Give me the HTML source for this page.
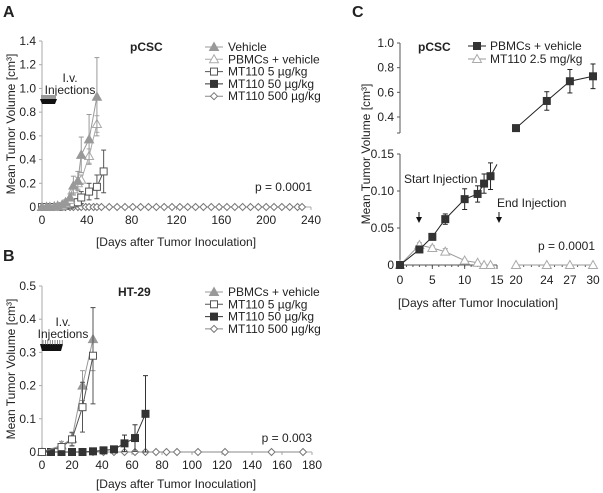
<!DOCTYPE html>
<html><head><meta charset="utf-8"><style>
body{margin:0;background:#fff;}
svg{display:block;font-family:"Liberation Sans",sans-serif;}
text{fill:#222;}
</style></head><body>
<svg id="fig" width="603" height="493" viewBox="0 0 603 493" xmlns="http://www.w3.org/2000/svg">
<g id="g"></g>
</svg>
<script>
// ---------- Panel A data ----------
const aXTicks=[0,40,80,120,160,200,240];
const aYTicks=[0,0.2,0.4,0.6,0.8,1.0,1.2,1.4];
const aYLabels=["0","0.2","0.4","0.6","0.8","1.0","1.2","1.4"];
const aVehDays=[0,4,7,11,14,18,21,25,28,32,35,42,49];
const aVehVals=[0,0,0,0.005,0.01,0.02,0.04,0.08,0.18,0.22,0.44,0.57,0.93];
const aVehErr=[0,0,0,0,0,0.01,0.02,0.03,0.08,0.08,0.15,0.21,0.33];
const aPbmDays=[0,4,7,11,14,18,21,25,28,32,35,42,49];
const aPbmVals=[0,0,0,0,0.005,0.01,0.03,0.06,0.15,0.2,0.23,0.43,0.70];
const aPbmErr=[0,0,0,0,0,0.01,0.01,0.02,0.04,0.05,0.04,0.06,0.07];
const aM5Days=[0,4,7,11,14,18,21,25,28,32,35,42,49,55];
const aM5Vals=[0,0,0,0,0,0.005,0.01,0.02,0.03,0.04,0.08,0.13,0.17,0.30];
const aM5Err=[0,0,0,0,0,0,0,0.01,0.02,0.03,0.05,0.07,0.1,0.18];
const aM50Days=[0,2,4,7,9,11];
const aM50Vals=[0,0,0,0,0,0];
const aM500Days=[0,4,7,11,14,18,21,25,28,32,35,39,42,46,49,53,60,67,74,81,88,95,102,109,116,123,130,137,144,151,158,165,172,179,186,193,200,207,214,221,228,232];
const aM500Vals=aM500Days.map(()=>0);
// ---------- Panel B data ----------
const bXTicks=[0,20,40,60,80,100,120,140,160,180];
const bYTicks=[0,0.1,0.2,0.3,0.4,0.5];
const bYLabels=["0","0.1","0.2","0.3","0.4","0.5"];
const bPbmDays=[0,13,20,27,34];
const bPbmVals=[0,0.02,0.04,0.2,0.34];
const bPbmErr=[0,0.012,0.02,0.045,0.095];
const bM5Days=[0,13,20,27,34];
const bM5Vals=[0,0.015,0.038,0.135,0.29];
const bM5Err=[0,0.01,0.02,0.075,0.145];
const bM50Days=[0,6,13,20,27,34,41,48,55,62,69];
const bM50Vals=[0,0,0,0,0,0.002,0.005,0.008,0.026,0.042,0.115];
const bM50Err=[0,0,0,0,0,0,0,0,0.025,0.04,0.115];
const bM500Days=[0,6,13,20,27,34,41,48,55,62,69,76,83,90,104,122,153,174];
const bM500Vals=bM500Days.map(()=>0);
// ---------- Panel C data ----------
const cXTicksL=[0,5,10,15];
const cXTicksR=[20,24,27,30];
const cYTicksL=[0,0.05,0.10,0.15];
const cYLabelsL=["0","0.05","0.10","0.15"];
const cYTicksU=[0.4,0.6,0.8,1.0];
const cYLabelsU=["0.4","0.6","0.8","1.0"];
const cPbmDaysL=[0,3,5,7,10,12,13,14];
const cPbmValsL=[0,0.021,0.038,0.062,0.089,0.096,0.110,0.120];
const cPbmErrL=[0,0.003,0.002,0.007,0.014,0.011,0.013,0.018];
const cPbmDaysU=[20,24,27,30];
const cPbmValsU=[0.31,0.53,0.69,0.73];
const cPbmErrU=[0.015,0.075,0.095,0.1];
const cMtDays=[0,3,5,7,10,12,13,14];
const cMtVals=[0,0.027,0.023,0.018,0.006,0.003,0,0];
const cMtErr=[0,0.003,0.003,0.004,0.002,0.001,0,0];
const cMtDaysR=[20,24,27,30];
const cMtValsR=[0,0,0,0];

const FS=12;
const NS="http://www.w3.org/2000/svg";
const G=document.getElementById('g');
function el(tag,attrs,parent){const e=document.createElementNS(NS,tag);for(const k in attrs)e.setAttribute(k,attrs[k]);(parent||G).appendChild(e);return e;}
function txt(x,y,s,opt,parent){const t=el('text',Object.assign({x:x,y:y,'font-size':FS},opt||{}),parent);t.textContent=s;return t;}
function lin(min,max,p0,p1){return v=>p0+(v-min)/(max-min)*(p1-p0);}

function marker(g,type,x,y,col){
  let m;
  if(type==='tri'){m=el('polygon',{points:`${x},${y-4.5} ${x+4.5},${y+3.5} ${x-4.5},${y+3.5}`,fill:col.fill,stroke:col.stroke,'stroke-width':1},g);}
  else if(type==='sq'){m=el('rect',{x:x-3.5,y:y-3.5,width:7,height:7,fill:col.fill,stroke:col.stroke,'stroke-width':1},g);}
  else {m=el('polygon',{points:`${x},${y-3.5} ${x+3.5},${y} ${x},${y+3.5} ${x-3.5},${y}`,fill:col.fill,stroke:col.stroke,'stroke-width':1},g);}
  
  
}
function series(name,days,vals,errs,X,Y,type,col,lineCol){
  const g=el('g',{});
  
  
  const n=Math.min(days.length,vals.length);
  const pts=[];for(let i=0;i<n;i++)pts.push(X(days[i])+','+Y(vals[i]));
  el('polyline',{points:pts.join(' '),fill:'none',stroke:lineCol,'stroke-width':1},g);
  if(errs)for(let i=0;i<n;i++){if(!errs[i])continue;const x=X(days[i]),y1=Y(vals[i]+errs[i]),y2=Y(Math.max(0,vals[i]-errs[i]));
    el('line',{x1:x,x2:x,y1:y1,y2:y2,stroke:lineCol,'stroke-width':1},g);
    el('line',{x1:x-2.5,x2:x+2.5,y1:y1,y2:y1,stroke:lineCol,'stroke-width':1},g);
    el('line',{x1:x-2.5,x2:x+2.5,y1:y2,y2:y2,stroke:lineCol,'stroke-width':1},g);}
  for(let i=0;i<n;i++)marker(g,type,X(days[i]),Y(vals[i]),col);
}
function axes(X,Y,xt,yt,yl,x0,y0,xEnd,yTop,name){
  const g=el('g',{});
  
  
  el('line',{x1:x0,x2:x0,y1:yTop,y2:y0,stroke:'#aaa'},g);
  el('line',{x1:x0,x2:xEnd,y1:y0,y2:y0,stroke:'#aaa'},g);
  yt.forEach((v,i)=>{const y=Y(v);el('line',{x1:x0-3,x2:x0,y1:y,y2:y,stroke:'#aaa'},g);txt(x0-6,y+4,yl[i],{'text-anchor':'end'},g);});
  xt.forEach(v=>{const x=X(v);el('line',{x1:x,x2:x,y1:y0,y2:y0+3,stroke:'#aaa'},g);txt(x,y0+17,String(v),{'text-anchor':'middle'},g);});
}
const GRAY={fill:'#999',stroke:'#999'},OPEN={fill:'#fff',stroke:'#aaa'},OPSQ={fill:'#fff',stroke:'#555'},BLK={fill:'#333',stroke:'#333'},DIA={fill:'#fff',stroke:'#777'};

// ===== Panel A =====
{const X=lin(0,240,42,311),Y=lin(0,1.4,207,41);
 axes(X,Y,aXTicks,aYTicks,aYLabels,42,207,311,41,'panel-a-axes');
 txt(3,17,'A',{'font-size':16,'font-weight':'bold'});
 txt(15,124,'Mean Tumor Volume [cm³]',{'text-anchor':'middle',transform:'rotate(-90 15 124)'});
 txt(176,246,'[Days after Tumor Inoculation]',{'text-anchor':'middle'});
 txt(130,51,'pCSC',{'font-weight':'bold'});
 txt(70,82,'I.v.',{'text-anchor':'middle'});
 txt(70,94,'Injections',{'text-anchor':'middle'});
 el('rect',{x:41,y:95,width:15,height:4,fill:'#999'});
 el('polygon',{points:'40,99 57,99 55,104 42,104',fill:'#111'});
 txt(312,191,'p = 0.0001',{'text-anchor':'end'});
 series('series-mt110-50',aM50Days,aM50Vals,null,X,Y,'sq',BLK,'#333');
 series('series-mt110-500',aM500Days,aM500Vals,null,X,Y,'dia',DIA,'#888');
 series('series-mt110-5',aM5Days,aM5Vals,aM5Err,X,Y,'sq',OPSQ,'#555');
 series('series-pbmcs-vehicle',aPbmDays,aPbmVals,aPbmErr,X,Y,'tri',OPEN,'#aaa');
 series('series-vehicle',aVehDays,aVehVals,aVehErr,X,Y,'tri',GRAY,'#999');
 const L=[['Vehicle','tri',GRAY,'#999'],['PBMCs + vehicle','tri',OPEN,'#aaa'],['MT110 5 µg/kg','sq',OPSQ,'#555'],['MT110 50 µg/kg','sq',BLK,'#333'],['MT110 500 µg/kg','dia',DIA,'#888']];
 L.forEach((l,i)=>{const y=47+i*12.3;const g=el('g',{});
  el('line',{x1:205,x2:223,y1:y,y2:y,stroke:l[3]},g);marker(g,l[1],214,y,l[2]);txt(228,y+4,l[0],{},g);});
}
// ===== Panel B =====
{const X=lin(0,180,42,312),Y=lin(0,0.5,452,286);
 axes(X,Y,bXTicks,bYTicks,bYLabels,42,452,312,286,'panel-b-axes');
 txt(3,261,'B',{'font-size':16,'font-weight':'bold'});
 txt(15,369,'Mean Tumor Volume [cm³]',{'text-anchor':'middle',transform:'rotate(-90 15 369)'});
 txt(176,488,'[Days after Tumor Inoculation]',{'text-anchor':'middle'});
 txt(118,296,'HT-29',{'font-weight':'bold'});
 txt(63,326,'I.v.',{'text-anchor':'middle'});
 txt(63,338,'Injections',{'text-anchor':'middle'});
 el('polygon',{points:'40,344 63,344 61,351 42,351',fill:'#111'});
 for(let i=0;i<9;i++)el('line',{x1:43+i*2.4,x2:43+i*2.4,y1:340,y2:345,stroke:'#555','stroke-width':0.7});
 txt(312,442,'p = 0.003',{'text-anchor':'end'});
 series('series-mt110-500',bM500Days,bM500Vals,null,X,Y,'dia',DIA,'#888');
 series('series-mt110-50',bM50Days,bM50Vals,bM50Err,X,Y,'sq',BLK,'#333');
 series('series-pbmcs-vehicle',bPbmDays,bPbmVals,bPbmErr,X,Y,'tri',GRAY,'#999');
 series('series-mt110-5',bM5Days,bM5Vals,bM5Err,X,Y,'sq',OPSQ,'#555');
 const L=[['PBMCs + vehicle','tri',GRAY,'#999'],['MT110 5 µg/kg','sq',OPSQ,'#555'],['MT110 50 µg/kg','sq',BLK,'#333'],['MT110 500 µg/kg','dia',DIA,'#888']];
 L.forEach((l,i)=>{const y=292+i*12.3;const g=el('g',{});
  el('line',{x1:205,x2:223,y1:y,y2:y,stroke:l[3]},g);marker(g,l[1],214,y,l[2]);txt(228,y+4,l[0],{},g);});
}
// ===== Panel C =====
{const XL=lin(0,15,400,497),XR=lin(20,30,516,593);
 const YL=lin(0,0.15,265,154),YU=lin(0.4,1.0,117,43);
 const g=el('g',{});
 el('line',{x1:400,x2:400,y1:154,y2:265,stroke:'#555'},g);
 el('line',{x1:400,x2:400,y1:43,y2:133,stroke:'#555'},g);
 el('line',{x1:397,x2:400,y1:133,y2:133,stroke:'#555'},g);
 el('line',{x1:400,x2:497,y1:265,y2:265,stroke:'#555'},g);
 el('line',{x1:516,x2:593,y1:265,y2:265,stroke:'#555'},g);
 cYTicksL.forEach((v,i)=>{const y=YL(v);el('line',{x1:397,x2:400,y1:y,y2:y,stroke:'#555'},g);txt(394,y+4,cYLabelsL[i],{'text-anchor':'end'},g);});
 cYTicksU.forEach((v,i)=>{const y=YU(v);el('line',{x1:397,x2:400,y1:y,y2:y,stroke:'#555'},g);txt(394,y+4,cYLabelsU[i],{'text-anchor':'end'},g);});
 cXTicksL.forEach(v=>{const x=XL(v);el('line',{x1:x,x2:x,y1:265,y2:269,stroke:'#555'},g);txt(x,284,String(v),{'text-anchor':'middle'},g);});
 for(let d=1;d<15;d++){const x=XL(d);el('line',{x1:x,x2:x,y1:265,y2:267,stroke:'#555'},g);}
 cXTicksR.forEach(v=>{const x=XR(v);el('line',{x1:x,x2:x,y1:265,y2:269,stroke:'#555'},g);txt(x,284,String(v),{'text-anchor':'middle'},g);});
 for(let d=21;d<30;d++){const x=XR(d);el('line',{x1:x,x2:x,y1:265,y2:267,stroke:'#555'},g);}
 txt(352,17,'C',{'font-size':16,'font-weight':'bold'});
 txt(370,154,'Mean Tumor Volume [cm³]',{'text-anchor':'middle',transform:'rotate(-90 370 154)'});
 txt(478,307,'[Days after Tumor Inoculation]',{'text-anchor':'middle'});
 txt(418,51,'pCSC',{'font-weight':'bold'});
 txt(404,183,'Start Injection',{});
 txt(497,207,'End Injection',{});
 el('line',{x1:419,x2:419,y1:212,y2:219,stroke:'#111'});el('polygon',{points:'416,217 422,217 419,223',fill:'#111'});
 el('line',{x1:499,x2:499,y1:212,y2:219,stroke:'#111'});el('polygon',{points:'496,217 502,217 499,223',fill:'#111'});
 txt(595,250,'p = 0.0001',{'text-anchor':'end'});
 el('line',{x1:XL(14),y1:YL(0.12),x2:XL(15),y2:YL(0.136),stroke:'#222'});
 series('series-mt110-2.5',cMtDays,cMtVals,cMtErr,XL,YL,'tri',OPEN,'#999');
 series('series-mt110-2.5-late',cMtDaysR,cMtValsR,null,XR,YL,'tri',OPEN,'#999');
 series('series-pbmcs-vehicle',cPbmDaysL,cPbmValsL,cPbmErrL,XL,YL,'sq',BLK,'#222');
 series('series-pbmcs-vehicle-late',cPbmDaysU,cPbmValsU,cPbmErrU,XR,v=>YU(v),'sq',BLK,'#222');
 const L=[['PBMCs + vehicle','sq',BLK,'#222'],['MT110 2.5 mg/kg','tri',OPEN,'#999']];
 L.forEach((l,i)=>{const y=46+i*13;const lg=el('g',{});
  el('line',{x1:468,x2:486,y1:y,y2:y,stroke:l[3]},lg);marker(lg,l[1],477,y,l[2]);txt(486+4,y+4,l[0],{},lg);});
}
</script>
</body></html>
